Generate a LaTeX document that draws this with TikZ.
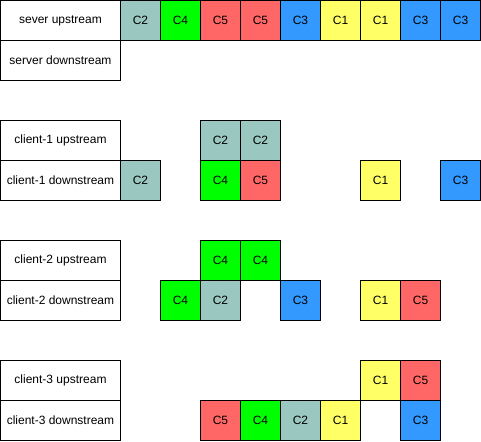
\documentclass[tikz,border=0pt]{standalone}
\usepackage{fontspec}
\setmainfont{Liberation Sans}
\usetikzlibrary{positioning}
\definecolor{cTwo}{HTML}{9AC7BF}
\definecolor{cFour}{HTML}{00FF00}
\definecolor{cFive}{HTML}{FF6666}
\definecolor{cThree}{HTML}{3399FF}
\definecolor{cOne}{HTML}{FFFF66}
\tikzstyle{lbl}=[draw, line width=1pt, minimum width=120pt, minimum height=40pt, inner sep=0pt]
\tikzstyle{cell}=[draw, line width=1pt, minimum size=40pt, inner sep=0pt]
\tikzstyle{ca}=[cell, fill=cOne]
\tikzstyle{cb}=[cell, fill=cTwo]
\tikzstyle{cc}=[cell, fill=cThree]
\tikzstyle{cd}=[cell, fill=cFour]
\tikzstyle{ce}=[cell, fill=cFive]

\begin{document}
\begin{tikzpicture}[x=1pt,y=-1pt,node distance=40pt]
  \tikzset{
    font={\fontsize{12pt}{14pt}\selectfont}
  }
    \useasboundingbox (0,0) rectangle (481,441);

    % stream labels
    \node [lbl] (su) at (60.5,20.5) {sever upstream};
    \node [lbl, below of=su] (sd) {server downstream};
    \node [lbl] (au) at (60.5,140.5) {client-1 upstream};
    \node [lbl, below of=au] (ad) {client-1 downstream};
    \node [lbl] (bu) at (60.5,260.5) {client-2 upstream};
    \node [lbl, below of=bu] (bd) {client-2 downstream};
    \node [lbl] (cu) at (60.5,380.5) {client-3 upstream};
    \node [lbl, below of=cu] (cd) {client-3 downstream};

    % server upstream
    \node [cb] (s1) at (140.5,20.5) {C2};
    \node [cd, right of=s1] (s2) {C4};
    \node [ce, right of=s2] (s3) {C5};
    \node [ce, right of=s3] (s4) {C5};
    \node [cc, right of=s4] (s5) {C3};
    \node [ca, right of=s5] (s6) {C1};
    \node [ca, right of=s6] (s7) {C1};
    \node [cc, right of=s7] (s8) {C3};
    \node [cc, right of=s8] (s9) {C3};

    % client-1
    \node [cb] (au1) at (220.5,140.5) {C2};
    \node [cb, right of=au1] (au2) {C2};
    \node [cb] (ad1) at (140.5,180.5) {C2};
    \node [cd, below of=au1] (ad2) {C4};
    \node [ce, right of=ad2] (ad3) {C5};
    \node [ca] (ad4) at (380.5,180.5) {C1};
    \node [cc, right of=ad4, node distance=80pt] (ad5) {C3};

    % client-2
    \node [cd] (bu1) at (220.5,260.5) {C4};
    \node [cd, right of=bu1] (bu2) {C4};
    \node [cd] (bd1) at (180.5,300.5) {C4};
    \node [cb, right of=bd1] (bd2) {C2};
    \node [cc, right of=bd2, node distance=80pt] (bd3) {C3};
    \node [ca, right of=bd3, node distance=80pt] (bd4) {C1};
    \node [ce, right of=bd4] (bd5) {C5};

    % client-3
    \node [ca] (cu1) at (380.5,380.5) {C1};
    \node [ce, right of=cu1] (cu2) {C5};
    \node [ce] (cd1) at (220.5,420.5) {C5};
    \node [cd, right of=cd1] (cd2) {C4};
    \node [cb, right of=cd2] (cd3) {C2};
    \node [ca, right of=cd3] (cd4) {C1};
    \node [cc, below of=cu2] (cd5) {C3};
\end{tikzpicture}
\end{document}
